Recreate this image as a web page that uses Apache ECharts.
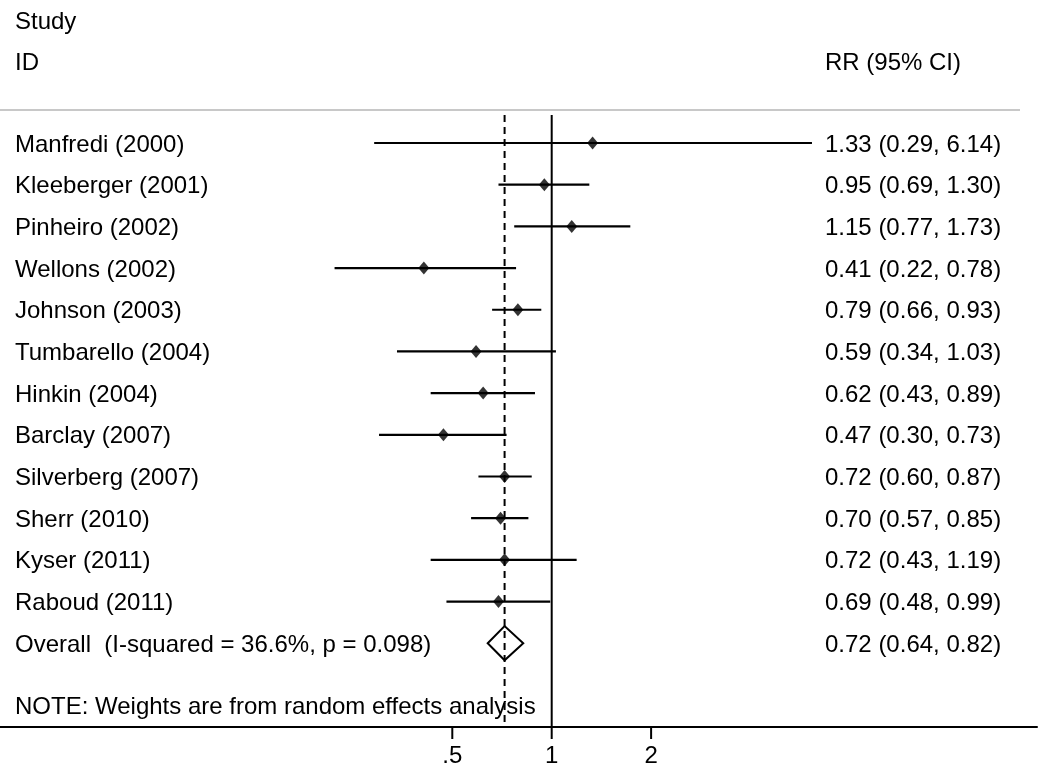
<!DOCTYPE html>
<html>
<head>
<meta charset="utf-8">
<script src="https://cdn.jsdelivr.net/npm/echarts@6/dist/echarts.min.js"></script>
<style>
html,body{margin:0;padding:0;background:#fff;}
#chart{width:1050px;height:781px;}
</style>
</head>
<body>
<div id="chart"></div>
<script>
// ---- data ----
var studies = ['Manfredi (2000)', 'Kleeberger (2001)', 'Pinheiro (2002)', 'Wellons (2002)',
  'Johnson (2003)', 'Tumbarello (2004)', 'Hinkin (2004)', 'Barclay (2007)',
  'Silverberg (2007)', 'Sherr (2010)', 'Kyser (2011)', 'Raboud (2011)'];
var rr    = [1.33, 0.95, 1.15, 0.41, 0.79, 0.59, 0.62, 0.47, 0.72, 0.70, 0.72, 0.69];
var lower = [0.29, 0.69, 0.77, 0.22, 0.66, 0.34, 0.43, 0.30, 0.60, 0.57, 0.43, 0.48];
var upper = [6.14, 1.30, 1.73, 0.78, 0.93, 1.03, 0.89, 0.73, 0.87, 0.85, 1.19, 0.99];
var overallLabel = 'Overall  (I-squared = 36.6%, p = 0.098)';
var overallRR = [0.72];
var overallLower = [0.64];
var overallUpper = [0.82];
var noteText = 'NOTE: Weights are from random effects analysis';
var tickValues = [0.5, 1, 2];
var tickLabels = ['.5', '1', '2'];
var nullValue = [1];

// ---- layout ----
var FONT = '"Liberation Sans", Arial, Helvetica, sans-serif';
var FS = 24;
var TEXT_DY = 2;
var Y_MIN = -0.816, Y_MAX = 14.01;
var X_MIN = Math.pow(2, -5.55), X_MAX = Math.pow(2, 4.882);
var overallRow = studies.length;      // 12
var noteRow = studies.length + 1.5;   // 13.5
var LEFT_X = 15, RIGHT_X = 825;

function fmt(v){ return v.toFixed(2); }

var rowData = studies.map(function(s, i){ return [i, rr[i], lower[i], upper[i]]; });
var textRows = studies.map(function(s, i){
  return [i, s, fmt(rr[i]) + ' (' + fmt(lower[i]) + ', ' + fmt(upper[i]) + ')'];
});
textRows.push([overallRow, overallLabel,
  fmt(overallRR[0]) + ' (' + fmt(overallLower[0]) + ', ' + fmt(overallUpper[0]) + ')']);
textRows.push([noteRow, noteText, '']);

var chart = echarts.init(document.getElementById('chart'), null, {renderer: 'canvas'});

var option = {
  animation: false,
  backgroundColor: '#fff',
  grid: {left: 0, right: 13, top: 109, bottom: 54, containLabel: false},
  xAxis: {
    type: 'log', logBase: 2, min: X_MIN, max: X_MAX,
    axisLine: {show: true, onZero: false, lineStyle: {color: '#000', width: 2}},
    axisTick: {show: false}, axisLabel: {show: false}, splitLine: {show: false}
  },
  yAxis: {
    type: 'value', inverse: true, min: Y_MIN, max: Y_MAX, show: false,
    splitLine: {show: false}
  },
  graphic: [
    {type: 'line', shape: {x1: 0, y1: 110, x2: 1020, y2: 110}, style: {stroke: '#c8c8c8', lineWidth: 2}},
    {type: 'text', left: LEFT_X, top: 10, style: {text: 'Study', fontSize: FS, fontFamily: FONT, fill: '#000'}},
    {type: 'text', left: LEFT_X, top: 51, style: {text: 'ID', fontSize: FS, fontFamily: FONT, fill: '#000'}},
    {type: 'text', left: RIGHT_X, top: 51, style: {text: 'RR (95% CI)', fontSize: FS, fontFamily: FONT, fill: '#000'}}
  ],
  series: [
    { // reference lines (null and overall estimate)
      type: 'custom', silent: true,
      data: [[nullValue[0], 0], [overallRR[0], 1]],
      renderItem: function(params, api){
        var v = api.value(0), dashed = api.value(1) === 1;
        var p1 = api.coord([v, -0.67]), p2 = api.coord([v, Y_MAX]);
        return {type: 'line', shape: {x1: p1[0], y1: p1[1], x2: p2[0], y2: p2[1]},
          style: {stroke: '#000', lineWidth: 2, lineDash: dashed ? [7, 5] : null}};
      }
    },
    { // CI lines
      type: 'custom', silent: true,
      data: rowData,
      renderItem: function(params, api){
        var i = api.value(0);
        var a = api.coord([api.value(2), i]), b = api.coord([api.value(3), i]);
        return {type: 'line', shape: {x1: a[0], y1: a[1], x2: b[0], y2: b[1]},
          style: {stroke: '#000', lineWidth: 2.2}};
      }
    },
    { // point estimates
      type: 'scatter', silent: true,
      symbol: 'diamond', symbolSize: [11, 13],
      itemStyle: {color: '#000'},
      data: studies.map(function(s, i){ return [rr[i], i]; })
    },
    { // overall diamond
      type: 'custom', silent: true,
      data: [[overallRow, overallRR[0], overallLower[0], overallUpper[0]]],
      renderItem: function(params, api){
        var r = api.value(0), e = api.value(1), lo = api.value(2), hi = api.value(3);
        var pts = [api.coord([lo, r]), api.coord([e, r - 0.41]), api.coord([hi, r]), api.coord([e, r + 0.41])];
        return {type: 'polygon', shape: {points: pts}, style: {fill: 'rgba(255,255,255,0)', stroke: '#000', lineWidth: 2}};
      },
      z: 3
    },
    { // row texts
      type: 'custom', silent: true,
      data: textRows,
      renderItem: function(params, api){
        var d = textRows[params.dataIndex];
        var y = api.coord([1, d[0]])[1] + TEXT_DY;
        return {type: 'group', children: [
          {type: 'text', style: {x: LEFT_X, y: y, text: d[1], fontSize: FS, fontFamily: FONT, fill: '#000', align: 'left', verticalAlign: 'middle'}},
          {type: 'text', style: {x: RIGHT_X, y: y, text: d[2], fontSize: FS, fontFamily: FONT, fill: '#000', align: 'left', verticalAlign: 'middle'}}
        ]};
      },
      z: 5
    },
    { // axis ticks and labels
      type: 'custom', silent: true,
      data: tickValues.map(function(v, i){ return [v, i]; }),
      renderItem: function(params, api){
        var p = api.coord([api.value(0), Y_MAX]);
        return {type: 'group', children: [
          {type: 'line', shape: {x1: p[0], y1: p[1], x2: p[0], y2: p[1] + 12}, style: {stroke: '#000', lineWidth: 2}},
          {type: 'text', style: {x: p[0], y: p[1] + 29, text: tickLabels[params.dataIndex], fontSize: FS, fontFamily: FONT, fill: '#000', align: 'center', verticalAlign: 'middle'}}
        ]};
      }
    }
  ]
};
chart.setOption(option);
</script>
</body>
</html>
